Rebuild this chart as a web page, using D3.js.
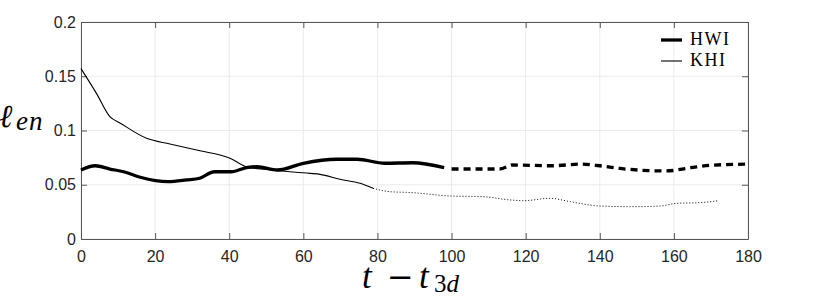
<!DOCTYPE html>
<html>
<head>
<meta charset="utf-8">
<script src="https://cdn.jsdelivr.net/npm/d3@7"></script>
<style>
  body { margin: 0; background: #fff; }
  svg { display: block; }
</style>
</head>
<body>
<svg id="vis"></svg>
<script>
// HWI: thick line, solid up to HWI_SPLIT then dashed
const hwi_t = [0, 3.8, 7.8, 11.5, 16, 23.5, 28.5, 32, 36, 40.5, 45, 47.5, 53, 60, 69, 74.5, 82, 89.5, 98,
               100, 113, 116.5, 127, 135, 140, 145.5, 158, 164.5, 170, 180];
const hwi_len = [0.0636, 0.0675, 0.0645, 0.062, 0.0569, 0.0528, 0.0544, 0.056, 0.062, 0.062, 0.0661, 0.0666, 0.0636, 0.0698, 0.0735, 0.0735, 0.0698, 0.0703, 0.0657,
                 0.0645, 0.0645, 0.0682, 0.0675, 0.069, 0.0675, 0.065, 0.0627, 0.0657, 0.068, 0.069];
const HWI_SPLIT = 98;

// KHI: thin line, solid up to KHI_SPLIT then dotted
const khi_t = [0, 4.2, 7.8, 10.5, 17.7, 24, 31.2, 37.5, 40.2, 44.7, 50.1, 61.8, 64.5, 69.9, 75.3, 78.8,
               83.4, 89.6, 94.2, 99.6, 108.5, 115.8, 119.3, 126.6, 132, 140, 149, 156.3, 160.8, 167, 172];
const khi_len = [0.157, 0.134, 0.1127, 0.107, 0.0928, 0.0876, 0.082, 0.0774, 0.0744, 0.0666, 0.064, 0.0605, 0.0596, 0.055, 0.0513, 0.0467,
                 0.0436, 0.0427, 0.0412, 0.0396, 0.039, 0.036, 0.0353, 0.0375, 0.0344, 0.0304, 0.0298, 0.0304, 0.0329, 0.0335, 0.0353];
const KHI_SPLIT = 78.8;

const x_ticks = [0, 20, 40, 60, 80, 100, 120, 140, 160, 180];
const y_ticks = [0, 0.05, 0.1, 0.15, 0.2];
const legend_names = ['HWI', 'KHI'];

const width = 830, height = 298;
const plot = {left: 81, right: 748, top: 22, bottom: 239};
const AXIS_COLOUR = '#555';
const TEXT_COLOUR = '#262626';
const GRID_COLOUR = '#ebebeb';

var svg = d3.select('#vis').attr('width', width).attr('height', height);

var x = d3.scaleLinear().domain([0, 180]).range([plot.left, plot.right]);
var y = d3.scaleLinear().domain([0, 0.2]).range([plot.bottom, plot.top]);

function toPoints(ts, vs) {
    var pts = [];
    for (var i = 0; i < ts.length; i++) {
        pts.push([ts[i], vs[i]]);
    }
    return pts;
}

function splitAt(pts, t) {
    var a = pts.filter(p => p[0] <= t);
    var b = pts.filter(p => p[0] >= t);
    // keep the two pieces joined
    if (b.length && b[0][0] > t) b.unshift(a[a.length - 1]);
    return [a, b];
}

// grid
var grid = svg.append('g');
x_ticks.forEach(function(t) {
    grid.append('line').attr('x1', x(t)).attr('x2', x(t))
        .attr('y1', plot.top).attr('y2', plot.bottom)
        .attr('stroke', GRID_COLOUR).attr('stroke-width', 1);
});
y_ticks.forEach(function(v) {
    grid.append('line').attr('x1', plot.left).attr('x2', plot.right)
        .attr('y1', y(v)).attr('y2', y(v))
        .attr('stroke', GRID_COLOUR).attr('stroke-width', 1);
});

// axes (ticks inside, box on)
var tickLen = 6;
var xAxis = d3.axisBottom(x).tickValues(x_ticks).tickSizeInner(-tickLen).tickSizeOuter(0).tickPadding(12);
var yAxis = d3.axisLeft(y).tickValues(y_ticks).tickSizeInner(-tickLen).tickSizeOuter(0).tickPadding(5)
    .tickFormat(d => d3.format('')(+d.toFixed(2)));
var xTop = d3.axisTop(x).tickValues(x_ticks).tickSizeInner(-tickLen).tickSizeOuter(0).tickFormat('');
var yRight = d3.axisRight(y).tickValues(y_ticks).tickSizeInner(-tickLen).tickSizeOuter(0).tickFormat('');

function styleAxis(g) {
    g.selectAll('path').attr('stroke', AXIS_COLOUR);
    g.selectAll('line').attr('stroke', AXIS_COLOUR);
    g.selectAll('text').attr('fill', TEXT_COLOUR)
        .style('font-family', '"Liberation Sans", Arial, sans-serif').style('font-size', '16px');
}

svg.append('g').attr('transform', 'translate(0,' + plot.bottom + ')').call(xAxis).call(styleAxis);
svg.append('g').attr('transform', 'translate(' + plot.left + ',0)').call(yAxis).call(styleAxis);
svg.append('g').attr('transform', 'translate(0,' + plot.top + ')').call(xTop).call(styleAxis);
svg.append('g').attr('transform', 'translate(' + plot.right + ',0)').call(yRight).call(styleAxis);

// lines
var line = d3.line().x(d => x(d[0])).y(d => y(d[1])).curve(d3.curveMonotoneX);

var hwi = splitAt(toPoints(hwi_t, hwi_len), HWI_SPLIT);
var khi = splitAt(toPoints(khi_t, khi_len), KHI_SPLIT);

var lines = svg.append('g');
lines.append('path').attr('d', line(khi[0])).attr('fill', 'none')
    .attr('stroke', 'black').attr('stroke-width', 1.1);
lines.append('path').attr('d', line(khi[1])).attr('fill', 'none')
    .attr('stroke', 'black').attr('stroke-width', 1).attr('stroke-dasharray', '1,2');
lines.append('path').attr('d', line(hwi[0])).attr('fill', 'none')
    .attr('stroke', 'black').attr('stroke-width', 3.3).attr('stroke-linejoin', 'round');
lines.append('path').attr('d', line(hwi[1].slice(1))).attr('fill', 'none')
    .attr('stroke', 'black').attr('stroke-width', 3.3).attr('stroke-dasharray', '7,5');

// legend
var legend = svg.append('g');
var legendWidths = [3.3, 1.1];
legend_names.forEach(function(name, i) {
    var ly = 40 + i * 21;
    legend.append('line').attr('x1', 661).attr('x2', 682).attr('y1', ly).attr('y2', ly)
        .attr('stroke', 'black').attr('stroke-width', legendWidths[i]);
    legend.append('text').attr('x', 690).attr('y', ly + 5)
        .style('font-family', '"Liberation Serif", "Times New Roman", serif').style('font-size', '18px')
        .style('letter-spacing', '1.5px')
        .attr('fill', 'black').text(name);
});

// y label: l_en
var yl = svg.append('text').attr('y', 127)
    .style('font-family', '"DejaVu Serif", serif').attr('fill', 'black');
yl.append('tspan').attr('x', -1).style('font-size', '32px').style('font-style', 'italic').text('ℓ');
yl.append('tspan').attr('x', 16).attr('dy', 3).style('font-size', '27px').style('font-style', 'italic')
    .style('font-family', '"Liberation Serif", serif').style('letter-spacing', '1px').text('en');

// x label: t - t_3d
var xl = svg.append('text').attr('y', 288)
    .style('font-family', '"Liberation Serif", "Times New Roman", serif').attr('fill', 'black');
xl.append('tspan').attr('x', 362).style('font-size', '35px').style('font-style', 'italic').text('t');
xl.append('tspan').attr('x', 387).style('font-size', '32px')
    .style('font-family', '"DejaVu Sans", sans-serif').text('−');
xl.append('tspan').attr('x', 419).style('font-size', '35px').style('font-style', 'italic').text('t');
xl.append('tspan').attr('x', 434).attr('dy', 4).style('font-size', '25px').text('3');
xl.append('tspan').style('font-size', '25px').style('font-style', 'italic').text('d');
</script>
</body>
</html>
